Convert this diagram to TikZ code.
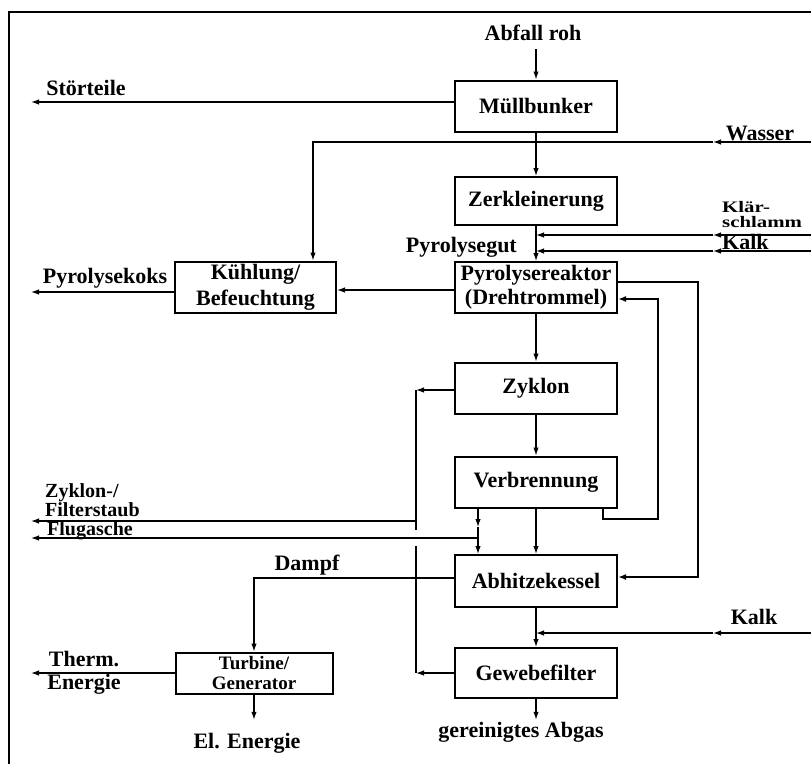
\documentclass[tikz,border=0pt]{standalone}
\usepackage{fontspec}
\setmainfont{Liberation Serif}
\usetikzlibrary{arrows.meta, calc}

\begin{document}
\begin{tikzpicture}[x=1pt, y=-1pt,
  font=\fontsize{22}{26}\selectfont\bfseries,
  box/.style={draw, line width=2pt, minimum width=162pt, minimum height=51pt, align=center, inner sep=1pt},
  lbl/.style={align=center, inner sep=0pt},
  pipe/.style={line width=1.2pt},
  flow/.style={pipe, -{Latex[length=8pt,width=5.5pt]}},
  loop/.style={line width=2.6pt, line join=miter, -{Latex[length=8pt,width=6pt]}},
  ret/.style={line width=1.7pt, -{Latex[length=8pt,width=6pt]}}]
  \useasboundingbox (0,0) rectangle (811,764);
  % frame
  \draw[line width=1.2pt] (811,12) -- (9,12) -- (9,764);

  % process boxes
  \node[box] (muell) at (536,106) {Müllbunker};
  \node[box, minimum height=48pt] (zerk) at (536,201) {Zerkleinerung};
  \node[box, font=\fontsize{22}{24}\selectfont\bfseries] (pyro) at (536,287.5) {Pyrolysereaktor\\(Drehtrommel)};
  \node[box, minimum width=161pt, font=\fontsize{22}{26}\selectfont\bfseries] (kuehl) at (255.5,287) {Kühlung/\\Befeuchtung};
  \node[box] (zyklon) at (536,388) {Zyklon};
  \node[box] (verbr) at (536,482) {Verbrennung};
  \node[box, minimum height=52pt] (abhitze) at (536,581) {Abhitzekessel};
  \node[box, minimum height=50pt] (gewebe) at (536,673) {Gewebefilter};
  \node[box, minimum width=157pt, minimum height=41pt, inner sep=0pt, font=\fontsize{19}{20}\selectfont\bfseries] (turbine) at (254,673) {Turbine/\\Generator};

  % labels
  \node[lbl] (abfall) at (533,33) {Abfall roh};
  \node[lbl] (stoer) at (86,88) {Störteile};
  \node[lbl] (wasser) at (760,133) {Wasser};
  \node[lbl, align=left, anchor=west, font=\fontsize{16}{15}\selectfont\bfseries] (klaer) at (722,215) {\scalebox{1.3}[1]{Klär-}\\\scalebox{1.3}[1]{schlamm}};
  \node[lbl, anchor=west] (kalkA) at (722,242) {Kalk};
  \node[lbl, anchor=east] (pgut) at (517,247) {Pyrolysegut};
  \node[lbl] (koks) at (105,278) {Pyrolysekoks};
  \node[lbl, align=left, anchor=north west, font=\fontsize{20}{19}\selectfont\bfseries] (staub) at (45,483) {Zyklon-/\\Filterstaub};
  \node[lbl, anchor=west, font=\fontsize{20}{19}\selectfont\bfseries] (flug) at (47,531) {Flugasche};
  \node[lbl] (dampf) at (307,565) {Dampf};
  \node[lbl, font=\fontsize{22}{23}\selectfont\bfseries] (therm) at (84,673) {Therm.\\Energie};
  \node[lbl] (elen) at (247,743) {El. Energie};
  \node[lbl] (abgas) at (521,732) {gereinigtes Abgas};
  \node[lbl] (kalkB) at (754,617) {Kalk};

  % free ends
  \coordinate (stoerEnd) at (31,102);
  \coordinate (wasserIn) at (811,142);
  \coordinate (wasserMid) at (713,142);
  \coordinate (wasserTurn) at (313,142);
  \coordinate (klaerIn) at (811,235);
  \coordinate (klaerMid) at (713,235);
  \coordinate (kalkAIn) at (811,251);
  \coordinate (kalkAMid) at (713,251);
  \coordinate (koksEnd) at (31,292);
  \coordinate (retTurn) at (658,519);
  \coordinate (dustTop) at (416,390);
  \coordinate (dustOut) at (416,521);
  \coordinate (dustGapA) at (416,530);
  \coordinate (dustGapB) at (416,546);
  \coordinate (dustBot) at (416,673);
  \coordinate (dustEnd) at (31,521);
  \coordinate (ascheA) at (478,527);
  \coordinate (ascheJoin) at (478,538);
  \coordinate (ascheEnd) at (31,538);
  \coordinate (thermEnd) at (31,673);
  \coordinate (kalkBIn) at (811,633);
  \coordinate (kalkBMid) at (713,633);

  % main line
  \draw[flow, shorten <=8pt] (muell.north |- abfall.south) -- (muell.north);
  \draw[flow] (muell) -- (zerk);
  \draw[flow] (zerk) -- (pyro);
  \draw[flow] (pyro) -- (zyklon);
  \draw[flow] (zyklon) -- (verbr);
  \draw[flow] (verbr) -- (abhitze);
  \draw[flow] (abhitze) -- (gewebe);
  \draw[flow] (gewebe.south) -- ($(gewebe.south |- abgas.north)+(0,-2)$);

  % inputs and outputs
  \draw[flow] ([yshift=4pt]muell.west) -- (stoerEnd);
  \draw[flow] (wasserIn) -- (wasserMid);
  \draw[flow] (wasserMid) -- (wasserTurn) -- (wasserTurn |- kuehl.north);
  \draw[flow] (klaerIn) -- (klaerMid);
  \draw[flow] (klaerMid) -- (zerk.south |- klaerIn);
  \draw[flow] (kalkAIn) -- (kalkAMid);
  \draw[flow] (kalkAMid) -- (zerk.south |- kalkAIn);
  \draw[flow] ([yshift=-2.5pt]pyro.west) -- ([yshift=-3pt]kuehl.east);
  \draw[flow] ([yshift=-5pt]kuehl.west) -- (koksEnd);

  % gas loops
  \draw[loop] ([yshift=5.5pt]pyro.east) -- ++(80,0) |- ([yshift=4pt]abhitze.east);
  \draw[ret] ([xshift=67pt]verbr.south) |- (retTurn) |- ([yshift=-11.5pt]pyro.east);

  % dust
  \draw[flow] ([yshift=-2pt]zyklon.west) -- (dustTop);
  \draw[flow] (gewebe.west) -- (dustBot);
  \draw[pipe] (dustTop) -- (dustGapA);
  \draw[pipe] (dustGapB) -- (dustBot);
  \draw[flow] (dustOut) -- (dustEnd);
  \draw[flow] ([xshift=-58pt]verbr.south) -- (ascheA);
  \draw[flow] (ascheA) -- ([xshift=-58pt]abhitze.north);
  \draw[flow] (ascheJoin) -- (ascheEnd);

  % energy
  \draw[flow] ([yshift=3pt]abhitze.west) -| (turbine.north);
  \draw[flow] (turbine.west) -- (thermEnd);
  \draw[flow] (turbine.south) -- ($(turbine.south |- elen.north)+(0,-13)$);
  \draw[flow] (kalkBIn) -- (kalkBMid);
  \draw[flow] (kalkBMid) -- (abhitze.south |- kalkBIn);
\end{tikzpicture}
\end{document}
